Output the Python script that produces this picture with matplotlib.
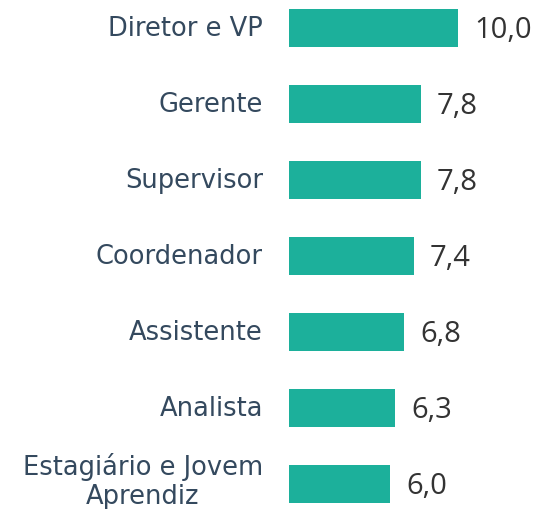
import matplotlib
matplotlib.use("Agg")
import matplotlib.pyplot as plt

cargos = ["Diretor e VP", "Gerente", "Supervisor", "Coordenador",
          "Assistente", "Analista", "Estagiário e Jovem\nAprendiz"]
valores = [10.0, 7.8, 7.8, 7.4, 6.8, 6.3, 6.0]

plt.rcParams['font.family'] = ['DejaVu Sans']

fig = plt.figure(figsize=(5.36, 5.10), dpi=100)
ax = fig.add_axes([289 / 536, 0, 247 / 536, 1])

pos = list(range(len(cargos)))
ax.barh(pos, valores, height=0.5, color="#1cb09b")

ax.set_xlim(0, 10 * 247 / 169)
ax.set_ylim((510 - 29) / 76, -29 / 76)
ax.axis("off")

for i, (c, v) in enumerate(zip(cargos, valores)):
    dy = -0.04 if "\n" in c else 0.0
    ax.text(-26 / 16.9, i + dy, c, ha="right", va="center", multialignment="center",
            fontsize=18.5, color="#34495e", linespacing=1.15)
    ax.text(v + 16 / 16.9, i + 0.02, f"{v:.1f}".replace(".", ","),
            ha="left", va="center", fontsize=21, color="#333333",
            family=["Open Sans", "DejaVu Sans"])

fig.savefig("out.png", dpi=100)
